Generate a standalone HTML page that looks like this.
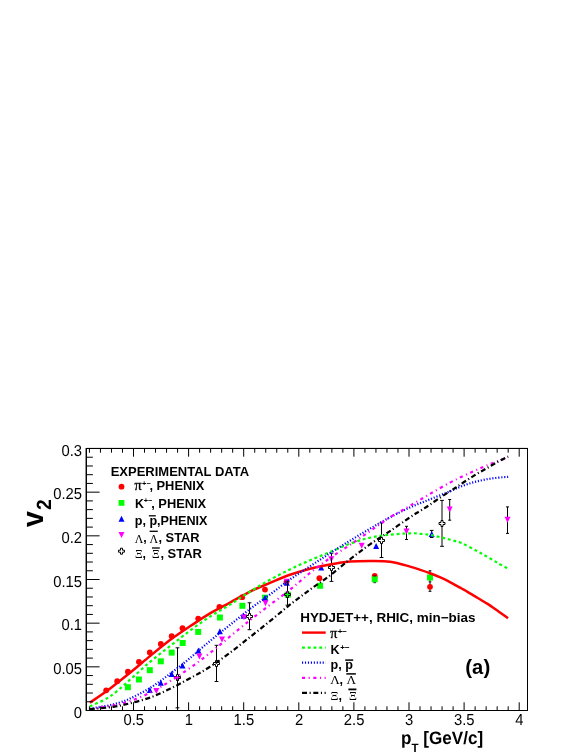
<!DOCTYPE html>
<html lang="en"><head><meta charset="utf-8"><title>v2 vs pT</title>
<style>html,body{margin:0;padding:0;background:#fff}body{width:581px;height:752px;overflow:hidden}svg{display:block}text{font-family:"Liberation Sans",sans-serif;fill:#000}.b{font-weight:bold}.s{font-family:"Liberation Serif",serif;font-weight:normal}</style>
</head><body>
<svg width="581" height="752" viewBox="0 0 581 752">
<rect width="581" height="752" fill="#fff"/>
<g>
<path d="M430.0 570.8V591.3M428.6 570.8H431.4M428.6 591.3H431.4" stroke="#000" stroke-width="1" fill="none"/>
<circle cx="106.2" cy="690.3" r="2.9" fill="#ff0000"/>
<circle cx="117.2" cy="681.2" r="2.9" fill="#ff0000"/>
<circle cx="127.9" cy="671.7" r="2.9" fill="#ff0000"/>
<circle cx="138.9" cy="661.8" r="2.9" fill="#ff0000"/>
<circle cx="149.8" cy="652.5" r="2.9" fill="#ff0000"/>
<circle cx="160.8" cy="644.0" r="2.9" fill="#ff0000"/>
<circle cx="171.7" cy="636.2" r="2.9" fill="#ff0000"/>
<circle cx="182.5" cy="628.2" r="2.9" fill="#ff0000"/>
<circle cx="198.2" cy="618.6" r="2.9" fill="#ff0000"/>
<circle cx="219.4" cy="606.9" r="2.9" fill="#ff0000"/>
<circle cx="242.2" cy="597.2" r="2.9" fill="#ff0000"/>
<circle cx="265.0" cy="589.6" r="2.9" fill="#ff0000"/>
<circle cx="286.5" cy="581.8" r="2.9" fill="#ff0000"/>
<circle cx="319.4" cy="578.2" r="2.9" fill="#ff0000"/>
<circle cx="374.7" cy="576.0" r="2.9" fill="#ff0000"/>
<circle cx="430.0" cy="586.8" r="2.9" fill="#ff0000"/>
<rect x="124.9" y="684.2" width="6" height="6" fill="#00ff00"/>
<rect x="135.9" y="676.5" width="6" height="6" fill="#00ff00"/>
<rect x="146.8" y="667.2" width="6" height="6" fill="#00ff00"/>
<rect x="157.8" y="658.3" width="6" height="6" fill="#00ff00"/>
<rect x="168.7" y="649.6" width="6" height="6" fill="#00ff00"/>
<rect x="179.7" y="640.0" width="6" height="6" fill="#00ff00"/>
<rect x="195.2" y="628.9" width="6" height="6" fill="#00ff00"/>
<rect x="216.9" y="614.5" width="6" height="6" fill="#00ff00"/>
<rect x="239.4" y="602.8" width="6" height="6" fill="#00ff00"/>
<rect x="262.0" y="594.7" width="6" height="6" fill="#00ff00"/>
<rect x="284.8" y="591.7" width="6" height="6" fill="#00ff00"/>
<rect x="317.1" y="582.8" width="6" height="6" fill="#00ff00"/>
<rect x="371.7" y="576.3" width="6" height="6" fill="#00ff00"/>
<rect x="427.0" y="574.5" width="6" height="6" fill="#00ff00"/>
<path d="M428.6 581.9h2.8M373.4 575.9h2.6M373.4 582.7h2.6" stroke="#000" stroke-width="1" opacity="0.8"/>
<path d="M431.7 530.4V537.5M429.9 530.4H433.5M429.9 537.5H433.5" stroke="#000" stroke-width="1" fill="none"/>
<path d="M146.8 693.0L152.8 693.0L149.8 687.0Z" fill="#0000ff"/>
<path d="M157.8 685.8L163.8 685.8L160.8 679.8Z" fill="#0000ff"/>
<path d="M168.7 677.1L174.7 677.1L171.7 671.1Z" fill="#0000ff"/>
<path d="M179.5 668.5L185.5 668.5L182.5 662.5Z" fill="#0000ff"/>
<path d="M195.4 653.6L201.4 653.6L198.4 647.6Z" fill="#0000ff"/>
<path d="M216.9 634.3L222.9 634.3L219.9 628.3Z" fill="#0000ff"/>
<path d="M240.5 618.8L246.5 618.8L243.5 612.8Z" fill="#0000ff"/>
<path d="M262.0 600.7L268.0 600.7L265.0 594.7Z" fill="#0000ff"/>
<path d="M283.8 585.7L289.8 585.7L286.8 579.7Z" fill="#0000ff"/>
<path d="M318.2 570.5L324.2 570.5L321.2 564.5Z" fill="#0000ff"/>
<path d="M373.1 549.1L379.1 549.1L376.1 543.1Z" fill="#0000ff"/>
<path d="M428.7 537.1L434.7 537.1L431.7 531.1Z" fill="#0000ff"/>
<path d="M153.4 687.9L159.4 687.9L156.4 693.9Z" fill="#ff00ff"/>
<path d="M174.6 676.3L180.6 676.3L177.6 682.3Z" fill="#ff00ff"/>
<path d="M196.4 653.5L202.4 653.5L199.4 659.5Z" fill="#ff00ff"/>
<path d="M219.0 636.6L225.0 636.6L222.0 642.6Z" fill="#ff00ff"/>
<path d="M241.0 614.2L247.0 614.2L244.0 620.2Z" fill="#ff00ff"/>
<path d="M262.5 600.3L268.5 600.3L265.5 606.3Z" fill="#ff00ff"/>
<path d="M283.8 578.8L289.8 578.8L286.8 584.8Z" fill="#ff00ff"/>
<path d="M328.3 556.2L334.3 556.2L331.3 562.2Z" fill="#ff00ff"/>
<path d="M358.7 542.8L364.7 542.8L361.7 548.8Z" fill="#ff00ff"/>
<path d="M406.5 526.3V539.5M405.0 526.3H408.0M405.0 539.5H408.0" stroke="#000" stroke-width="1" fill="none"/>
<path d="M403.5 528.5L409.5 528.5L406.5 534.5Z" fill="#ff00ff"/>
<path d="M449.7 499.5V520.2M448.2 499.5H451.2M448.2 520.2H451.2" stroke="#000" stroke-width="1" fill="none"/>
<path d="M446.7 506.4L452.7 506.4L449.7 512.4Z" fill="#ff00ff"/>
<path d="M507.5 506.9V533.4M506.0 506.9H509.0M506.0 533.4H509.0" stroke="#000" stroke-width="1" fill="none"/>
<path d="M504.5 516.8L510.5 516.8L507.5 522.8Z" fill="#ff00ff"/>
<path d="M177.5 647.8V674.2M177.5 680.8V707.8M175.6 647.8h3.8M175.6 707.8h3.8" stroke="#000" stroke-width="1" fill="none"/>
<path d="M176.5 674.5L178.5 674.5L178.5 676.5L180.5 676.5L180.5 678.5L178.5 678.5L178.5 680.5L176.5 680.5L176.5 678.5L174.5 678.5L174.5 676.5L176.5 676.5Z" fill="none" stroke="#000" stroke-width="1"/>
<path d="M216.5 645.3V660.2M216.5 666.8V681.5M214.6 645.3h3.8M214.6 681.5h3.8" stroke="#000" stroke-width="1" fill="none"/>
<path d="M215.5 660.5L217.5 660.5L217.5 662.5L219.5 662.5L219.5 664.5L217.5 664.5L217.5 666.5L215.5 666.5L215.5 664.5L213.5 664.5L213.5 662.5L215.5 662.5Z" fill="none" stroke="#000" stroke-width="1"/>
<path d="M249.5 602.8V613.2M249.5 619.8V629.7M247.6 602.8h3.8M247.6 629.7h3.8" stroke="#000" stroke-width="1" fill="none"/>
<path d="M248.5 613.5L250.5 613.5L250.5 615.5L252.5 615.5L252.5 617.5L250.5 617.5L250.5 619.5L248.5 619.5L248.5 617.5L246.5 617.5L246.5 615.5L248.5 615.5Z" fill="none" stroke="#000" stroke-width="1"/>
<path d="M287.5 581.1V591.2M287.5 597.8V605.2M285.6 581.1h3.8M285.6 605.2h3.8" stroke="#000" stroke-width="1" fill="none"/>
<path d="M286.5 591.5L288.5 591.5L288.5 593.5L290.5 593.5L290.5 595.5L288.5 595.5L288.5 597.5L286.5 597.5L286.5 595.5L284.5 595.5L284.5 593.5L286.5 593.5Z" fill="none" stroke="#000" stroke-width="1"/>
<path d="M331.5 553.2V564.2M331.5 570.8V581.4M329.6 553.2h3.8M329.6 581.4h3.8" stroke="#000" stroke-width="1" fill="none"/>
<path d="M330.5 564.5L332.5 564.5L332.5 566.5L334.5 566.5L334.5 568.5L332.5 568.5L332.5 570.5L330.5 570.5L330.5 568.5L328.5 568.5L328.5 566.5L330.5 566.5Z" fill="none" stroke="#000" stroke-width="1"/>
<path d="M381.5 522.9V537.2M381.5 543.8V557.5M379.6 522.9h3.8M379.6 557.5h3.8" stroke="#000" stroke-width="1" fill="none"/>
<path d="M380.5 537.5L382.5 537.5L382.5 539.5L384.5 539.5L384.5 541.5L382.5 541.5L382.5 543.5L380.5 543.5L380.5 541.5L378.5 541.5L378.5 539.5L380.5 539.5Z" fill="none" stroke="#000" stroke-width="1"/>
<path d="M442.0 500.4V520.2M442.0 526.8V546.3M440.1 500.4h3.8M440.1 546.3h3.8" stroke="#000" stroke-width="1" fill="none"/>
<path d="M441.0 520.5L443.0 520.5L443.0 522.5L445.0 522.5L445.0 524.5L443.0 524.5L443.0 526.5L441.0 526.5L441.0 524.5L439.0 524.5L439.0 522.5L441.0 522.5Z" fill="none" stroke="#000" stroke-width="1"/>
</g>
<g fill="none" stroke-width="2.2">
<path d="M89.9 702.7C93.2 700.4 103.1 693.7 109.8 688.7C116.5 683.7 123.3 678.1 130.0 672.7C136.7 667.3 143.3 661.6 150.0 656.1C156.7 650.6 163.3 645.0 170.0 640.0C176.7 635.0 183.3 630.7 190.0 626.3C196.7 621.9 203.3 617.3 210.0 613.4C216.7 609.5 223.3 606.2 230.0 602.6C236.7 599.0 243.3 594.9 250.0 591.6C256.7 588.3 263.3 585.7 270.0 582.9C276.7 580.1 283.3 577.2 290.0 574.8C296.7 572.4 303.3 570.4 310.0 568.7C316.7 567.0 323.3 565.7 330.0 564.5C336.7 563.3 343.3 562.2 350.0 561.6C356.7 561.0 363.3 561.0 370.0 561.0C376.7 561.0 383.3 560.8 390.0 561.7C396.7 562.6 404.9 565.2 410.0 566.6C415.1 568.0 416.9 568.8 420.3 569.9C423.8 571.0 427.2 572.2 430.7 573.5C434.1 574.8 437.6 576.2 441.0 577.7C444.4 579.2 447.9 581.0 451.3 582.8C454.7 584.6 458.9 587.0 461.6 588.5C464.3 590.0 465.1 590.4 467.5 591.8C469.9 593.2 472.9 595.1 476.3 597.1C479.7 599.1 483.8 601.5 487.6 603.9C491.4 606.3 495.5 609.4 498.9 611.8C502.3 614.2 506.5 617.1 508.0 618.2" stroke="#ff0000" stroke-width="2.5"/>
<path d="M89.9 706.3C93.2 704.7 103.1 701.0 109.8 696.6C116.5 692.2 123.3 685.5 130.0 679.7C136.7 673.9 143.3 667.5 150.0 661.9C156.7 656.3 163.3 651.4 170.0 646.2C176.7 641.0 183.3 635.5 190.0 630.6C196.7 625.7 203.3 620.9 210.0 616.6C216.7 612.3 223.3 608.8 230.0 604.6C236.7 600.4 243.3 595.7 250.0 591.6C256.7 587.5 263.3 583.5 270.0 579.8C276.7 576.1 283.3 572.6 290.0 569.4C296.7 566.1 303.3 563.2 310.0 560.3C316.7 557.4 323.3 554.8 330.0 552.0C336.7 549.2 343.3 546.1 350.0 543.7C356.7 541.3 363.3 539.2 370.0 537.7C376.7 536.2 383.3 535.4 390.0 534.7C396.7 534.0 404.9 533.4 410.0 533.3C415.1 533.1 416.9 533.5 420.3 533.8C423.8 534.1 427.2 534.4 430.7 535.0C434.1 535.6 437.6 536.6 441.0 537.4C444.4 538.2 447.9 539.0 451.3 540.0C454.7 541.0 457.4 541.3 461.6 543.1C465.8 544.9 472.0 548.4 476.3 550.7C480.6 553.0 483.8 554.8 487.6 557.0C491.4 559.2 495.6 561.8 498.9 563.7C502.2 565.6 506.1 567.5 507.5 568.3" stroke="#00ff00" stroke-dasharray="2.9 2.85"/>
<path d="M89.9 708.9C91.6 708.6 96.5 707.5 99.8 706.9C103.1 706.3 106.4 706.0 109.8 705.2C113.2 704.5 116.6 703.5 120.0 702.4C123.4 701.3 125.0 701.0 130.0 698.6C135.0 696.2 143.3 692.1 150.0 688.0C156.7 683.9 163.3 678.8 170.0 673.8C176.7 668.8 183.3 663.6 190.0 658.1C196.7 652.6 203.3 646.5 210.0 641.0C216.7 635.5 223.3 630.2 230.0 624.9C236.7 619.6 243.3 614.1 250.0 609.0C256.7 603.9 263.3 599.4 270.0 594.5C276.7 589.6 283.3 584.2 290.0 579.5C296.7 574.8 303.3 570.7 310.0 566.3C316.7 561.9 323.3 557.5 330.0 553.2C336.7 548.9 343.3 544.8 350.0 540.7C356.7 536.6 363.3 532.6 370.0 528.7C376.7 524.8 383.3 520.8 390.0 517.3C396.7 513.8 403.3 510.4 410.0 507.4C416.7 504.4 423.3 502.0 430.0 499.3C436.7 496.6 444.9 493.4 450.0 491.3C455.1 489.2 457.1 488.0 460.7 486.6C464.2 485.2 467.8 484.0 471.3 482.9C474.9 481.8 478.4 481.0 482.0 480.2C485.6 479.4 489.1 478.8 492.7 478.3C496.3 477.8 500.8 477.4 503.4 477.2C506.0 476.9 507.4 476.9 508.2 476.8" stroke="#0000ff" stroke-dasharray="1.15 1.8"/>
<path d="M89.9 709.2C93.8 708.6 106.8 706.8 113.5 705.4C120.2 704.0 123.9 703.2 130.0 701.1C136.1 699.0 143.3 696.1 150.0 692.8C156.7 689.5 163.3 685.4 170.0 681.2C176.7 677.1 183.3 672.6 190.0 667.9C196.7 663.2 203.3 658.2 210.0 653.0C216.7 647.8 223.3 642.0 230.0 636.5C236.7 631.0 243.3 625.5 250.0 620.2C256.7 614.9 263.3 609.9 270.0 604.8C276.7 599.7 283.3 595.0 290.0 589.7C296.7 584.4 303.3 578.2 310.0 572.9C316.7 567.6 323.3 562.7 330.0 558.0C336.7 553.3 343.3 549.4 350.0 544.9C356.7 540.4 363.3 535.7 370.0 531.1C376.7 526.5 383.3 521.5 390.0 517.3C396.7 513.1 403.3 509.7 410.0 505.8C416.7 501.9 423.3 497.8 430.0 493.9C436.7 490.0 444.4 485.6 450.0 482.6C455.6 479.6 459.3 477.9 463.3 476.0C467.3 474.1 470.4 472.7 474.0 471.1C477.6 469.5 481.1 467.8 484.7 466.3C488.3 464.8 491.5 463.6 495.4 462.1C499.3 460.6 505.9 458.1 508.0 457.3" stroke="#ff00ff" stroke-dasharray="3.1 3.55 1.1 3.55"/>
<path d="M89.9 709.2C93.8 708.8 106.8 707.8 113.5 706.8C120.2 705.8 123.9 704.8 130.0 703.3C136.1 701.8 143.3 700.0 150.0 697.6C156.7 695.2 163.3 692.0 170.0 688.8C176.7 685.6 183.3 682.0 190.0 678.3C196.7 674.6 203.3 671.1 210.0 666.8C216.7 662.5 223.3 657.7 230.0 652.7C236.7 647.7 243.3 642.3 250.0 637.0C256.7 631.7 263.3 626.5 270.0 621.1C276.7 615.7 283.3 610.0 290.0 604.7C296.7 599.5 303.3 594.5 310.0 589.6C316.7 584.7 323.3 580.5 330.0 575.4C336.7 570.3 343.3 564.5 350.0 559.3C356.7 554.1 363.3 549.0 370.0 544.3C376.7 539.6 383.3 535.6 390.0 531.1C396.7 526.6 404.9 520.7 410.0 517.3C415.1 513.9 417.0 512.9 420.3 510.8C423.6 508.7 426.6 506.9 430.0 504.6C433.4 502.3 437.7 499.2 441.0 497.0C444.3 494.8 447.4 492.9 450.0 491.3C452.6 489.7 453.7 488.9 456.4 487.2C459.1 485.4 462.7 482.9 466.0 480.8C469.3 478.7 472.7 476.4 476.1 474.3C479.5 472.2 482.9 470.4 486.3 468.5C489.7 466.6 493.0 464.5 496.4 462.6C499.8 460.7 504.6 458.3 506.6 457.3C508.6 456.3 507.9 456.7 508.2 456.6" stroke="#000000" stroke-dasharray="5 2.6 1.1 2.6"/>
</g>
<g stroke="#000" stroke-width="1" fill="none">
<rect x="86.5" y="448.5" width="441.0" height="262.0" shape-rendering="crispEdges"/>
<path d="M86 448.0V711.0" stroke-width="0.9"/>
<path d="M86.5 448.3H527.5" stroke-width="0.5"/>
<path d="M89.42 710.5v-4.2M89.42 448.5v4.2M100.44 710.5v-4.2M100.44 448.5v4.2M111.46 710.5v-4.2M111.46 448.5v4.2M122.48 710.5v-4.2M122.48 448.5v4.2M133.50 710.5v-8.2M133.50 448.5v8.2M144.52 710.5v-4.2M144.52 448.5v4.2M155.54 710.5v-4.2M155.54 448.5v4.2M166.56 710.5v-4.2M166.56 448.5v4.2M177.58 710.5v-4.2M177.58 448.5v4.2M188.60 710.5v-8.2M188.60 448.5v8.2M199.62 710.5v-4.2M199.62 448.5v4.2M210.64 710.5v-4.2M210.64 448.5v4.2M221.66 710.5v-4.2M221.66 448.5v4.2M232.68 710.5v-4.2M232.68 448.5v4.2M243.70 710.5v-8.2M243.70 448.5v8.2M254.72 710.5v-4.2M254.72 448.5v4.2M265.74 710.5v-4.2M265.74 448.5v4.2M276.76 710.5v-4.2M276.76 448.5v4.2M287.78 710.5v-4.2M287.78 448.5v4.2M298.80 710.5v-8.2M298.80 448.5v8.2M309.82 710.5v-4.2M309.82 448.5v4.2M320.84 710.5v-4.2M320.84 448.5v4.2M331.86 710.5v-4.2M331.86 448.5v4.2M342.88 710.5v-4.2M342.88 448.5v4.2M353.90 710.5v-8.2M353.90 448.5v8.2M364.92 710.5v-4.2M364.92 448.5v4.2M375.94 710.5v-4.2M375.94 448.5v4.2M386.96 710.5v-4.2M386.96 448.5v4.2M397.98 710.5v-4.2M397.98 448.5v4.2M409.00 710.5v-8.2M409.00 448.5v8.2M420.02 710.5v-4.2M420.02 448.5v4.2M431.04 710.5v-4.2M431.04 448.5v4.2M442.06 710.5v-4.2M442.06 448.5v4.2M453.08 710.5v-4.2M453.08 448.5v4.2M464.10 710.5v-8.2M464.10 448.5v8.2M475.12 710.5v-4.2M475.12 448.5v4.2M486.14 710.5v-4.2M486.14 448.5v4.2M497.16 710.5v-4.2M497.16 448.5v4.2M508.18 710.5v-4.2M508.18 448.5v4.2M519.20 710.5v-8.2M519.20 448.5v8.2M86.5 710.50h13.1M86.5 701.77h6.4M86.5 693.03h6.4M86.5 684.30h6.4M86.5 675.57h6.4M86.5 666.83h13.1M86.5 658.10h6.4M86.5 649.37h6.4M86.5 640.63h6.4M86.5 631.90h6.4M86.5 623.17h13.1M86.5 614.43h6.4M86.5 605.70h6.4M86.5 596.97h6.4M86.5 588.23h6.4M86.5 579.50h13.1M86.5 570.77h6.4M86.5 562.03h6.4M86.5 553.30h6.4M86.5 544.57h6.4M86.5 535.83h13.1M86.5 527.10h6.4M86.5 518.37h6.4M86.5 509.63h6.4M86.5 500.90h6.4M86.5 492.17h13.1M86.5 483.43h6.4M86.5 474.70h6.4M86.5 465.97h6.4M86.5 457.23h6.4M86.5 448.50h13.1"/>
</g>
<g font-size="14.8" text-rendering="geometricPrecision">
<text transform="translate(82 717.7) scale(1 1.07)" text-anchor="end">0</text>
<text transform="translate(82 674.0) scale(1 1.07)" text-anchor="end">0.05</text>
<text transform="translate(82 630.4) scale(1 1.07)" text-anchor="end">0.1</text>
<text transform="translate(82 586.7) scale(1 1.07)" text-anchor="end">0.15</text>
<text transform="translate(82 543.0) scale(1 1.07)" text-anchor="end">0.2</text>
<text transform="translate(82 499.4) scale(1 1.07)" text-anchor="end">0.25</text>
<text transform="translate(82 455.7) scale(1 1.07)" text-anchor="end">0.3</text>
<text transform="translate(133.7 725.2) scale(1 1.07)" text-anchor="middle">0.5</text>
<text transform="translate(188.8 725.2) scale(1 1.07)" text-anchor="middle">1</text>
<text transform="translate(243.9 725.2) scale(1 1.07)" text-anchor="middle">1.5</text>
<text transform="translate(299.0 725.2) scale(1 1.07)" text-anchor="middle">2</text>
<text transform="translate(354.1 725.2) scale(1 1.07)" text-anchor="middle">2.5</text>
<text transform="translate(409.2 725.2) scale(1 1.07)" text-anchor="middle">3</text>
<text transform="translate(464.3 725.2) scale(1 1.07)" text-anchor="middle">3.5</text>
<text transform="translate(519.4 725.2) scale(1 1.07)" text-anchor="middle">4</text>
</g>
<text class="b" font-size="17.1" text-rendering="geometricPrecision" transform="translate(401 744.3) scale(1 1.05)">p<tspan font-size="11.5" dy="7.2">T</tspan><tspan dy="-7.2"> [GeV/c]</tspan></text>
<text class="b" font-size="30.4" text-rendering="geometricPrecision" transform="translate(43.2 527) rotate(-90) scale(0.935 1)">v<tspan font-size="20.6" dx="1.2" dy="8">2</tspan></text>
<g class="b" font-size="12.4">
<text x="110.7" y="475.8" textLength="138.4" lengthAdjust="spacingAndGlyphs">EXPERIMENTAL DATA</text>
<circle cx="121.5" cy="486.7" r="2.9" fill="#ff0000"/>
<text class="s" font-size="14.2" x="134.4" y="490.3" stroke="#000" stroke-width="0.35">π</text>
<text x="142.1" y="485.9" font-size="7.4">+−</text>
<text x="149.4" y="490.3" textLength="55.0" lengthAdjust="spacingAndGlyphs">, PHENIX</text>
<rect x="118.6" y="500.0" width="5.8" height="5.8" fill="#00ff00"/>
<text x="135.0" y="507.8">K</text>
<text x="143.8" y="503.4" font-size="7.4">+−</text>
<text x="151.2" y="507.8" textLength="55.0" lengthAdjust="spacingAndGlyphs">, PHENIX</text>
<path d="M118.5 521.8L124.5 521.8L121.5 515.8Z" fill="#0000ff"/>
<text x="134.7" y="524.7" textLength="72.8" lengthAdjust="spacingAndGlyphs">p, p,PHENIX</text>
<path d="M148.9 515.8H155.8" stroke="#000" stroke-width="1.3"/>
<path d="M118.5 531.9L124.5 531.9L121.5 537.9Z" fill="#ff00ff"/>
<text class="s" font-size="11.9" x="134.8" y="542.6">Λ</text>
<text x="143.2" y="542.2">,</text>
<text class="s" font-size="11.9" x="149.4" y="542.6">Λ</text>
<text x="158.4" y="542.2" textLength="41.3" lengthAdjust="spacingAndGlyphs">, STAR</text>
<path d="M149.6 531.3H157.8" stroke="#000" stroke-width="1.3"/>
<path d="M120.5 548.2L122.5 548.2L122.5 550.2L124.5 550.2L124.5 552.2L122.5 552.2L122.5 554.2L120.5 554.2L120.5 552.2L118.5 552.2L118.5 550.2L120.5 550.2Z" fill="none" stroke="#000" stroke-width="1"/>
<text class="s" font-size="11.9" x="135.0" y="557.6">Ξ</text>
<text x="142.4" y="557.6">,</text>
<text class="s" font-size="11.9" x="152.0" y="557.6">Ξ</text>
<text x="160.4" y="557.6" textLength="41.6" lengthAdjust="spacingAndGlyphs">, STAR</text>
<path d="M152.0 548.0H159.8" stroke="#000" stroke-width="1.3"/>
</g>
<g class="b" font-size="12.6">
<text x="300.2" y="621.5" textLength="175.3" lengthAdjust="spacingAndGlyphs">HYDJET++, RHIC, min−bias</text>
<path d="M302 632.6H325.7" stroke="#ff0000" stroke-width="2.4" fill="none"/>
<path d="M302 647.6H325.7" stroke="#00ff00" stroke-width="2.2" stroke-dasharray="2.9 2.85" fill="none"/>
<path d="M302 662.7H325.7" stroke="#0000ff" stroke-width="2.2" stroke-dasharray="1.15 1.8" fill="none"/>
<path d="M302 677.8H325.7" stroke="#ff00ff" stroke-width="2.2" stroke-dasharray="3.1 3.55 1.1 3.55" fill="none"/>
<path d="M302 692.9H325.7" stroke="#000000" stroke-width="2.2" stroke-dasharray="5 2.6 1.1 2.6" fill="none"/>
<text class="s" font-size="14.2" x="330.3" y="638.0" stroke="#000" stroke-width="0.35">π</text>
<text x="337.7" y="634.0" font-size="8.0">+−</text>
<text x="330.6" y="653.9">K</text>
<text x="340.3" y="649.5" font-size="8.0">+−</text>
<text x="330.6" y="668.6">p, p</text>
<path d="M345.2 660.1H353.2" stroke="#000" stroke-width="1.5"/>
<text class="s" font-size="13.2" x="330.2" y="684.4">Λ</text>
<text x="339.6" y="684.4">,</text>
<text class="s" font-size="13.2" x="346.5" y="684.4">Λ</text>
<path d="M346.3 673.9H355.9" stroke="#000" stroke-width="1.5"/>
<text class="s" font-size="12.3" x="330.6" y="699.5">Ξ</text>
<text x="338.6" y="699.5">,</text>
<text class="s" font-size="12.3" x="349.0" y="699.5">Ξ</text>
<path d="M348.4 689.4H356.4" stroke="#000" stroke-width="1.8"/>
</g>
<g class="b" text-anchor="middle"><text font-size="20.6" x="468.6" y="673.8">(</text><text font-size="20.1" x="477.6" y="673.6">a</text><text font-size="20.6" x="486.9" y="673.8">)</text></g>
</svg>
</body></html>
